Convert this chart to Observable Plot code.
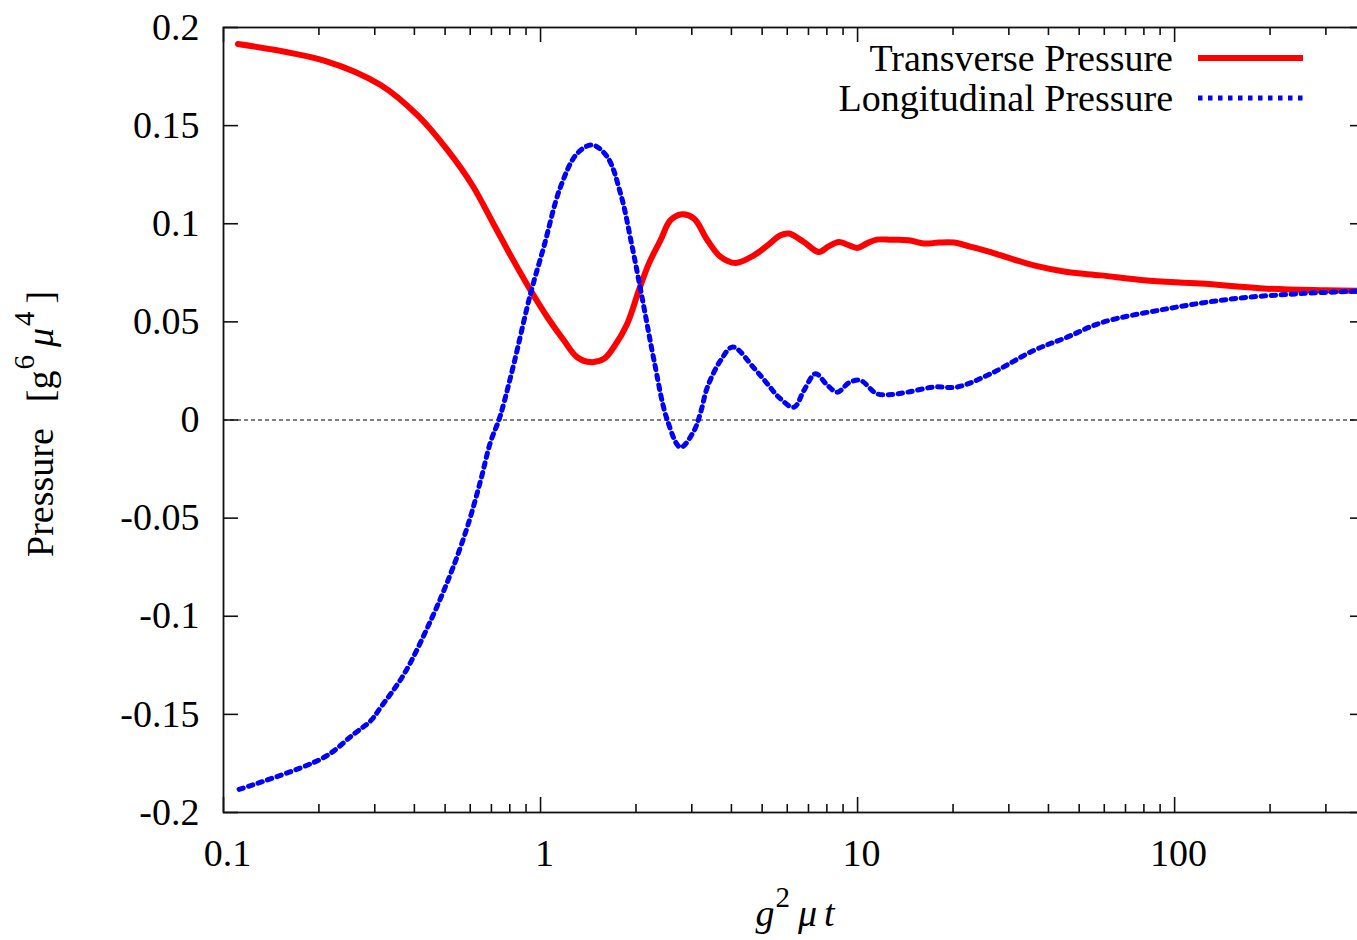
<!DOCTYPE html>
<html>
<head>
<meta charset="utf-8">
<script src="https://cdn.jsdelivr.net/npm/d3@7"></script>
<script src="https://cdn.jsdelivr.net/npm/@observablehq/plot@0.6"></script>
<style>
  html, body { margin: 0; padding: 0; background: #fff; overflow: hidden; }
  #chart svg { max-width: none !important; display: block; }
</style>
</head>
<body>
<div id="chart"></div>
<script>
// Transverse pressure vs g^2 mu t
const transverseT = [0.111, 0.21, 0.313, 0.409, 0.509, 0.61, 0.71, 0.81, 0.93, 1.05, 1.184, 1.305, 1.438, 1.585, 1.703, 1.877, 2.042, 2.196, 2.39, 2.57, 2.80, 3.05, 3.36, 3.70, 4.12, 4.71, 5.2, 5.71, 6.07, 6.77, 7.55, 8.1, 8.73, 9.3, 9.98, 10.7, 11.5, 12.8, 14.5, 16.2, 18.0, 20.1, 22.5, 26.3, 30.5, 36.0, 45.8, 58.5, 80, 120.8, 196, 300, 400];
const transverseP = [0.1916, 0.1829, 0.1707, 0.1553, 0.1375, 0.1195, 0.100, 0.083, 0.0661, 0.0525, 0.0406, 0.032, 0.0295, 0.0312, 0.0372, 0.0491, 0.0661, 0.0797, 0.0916, 0.1018, 0.1048, 0.1026, 0.0916, 0.0831, 0.080, 0.0839, 0.089, 0.0941, 0.095, 0.0907, 0.0856, 0.0885, 0.0907, 0.0893, 0.0877, 0.090, 0.0919, 0.0918, 0.0916, 0.0899, 0.0904, 0.0904, 0.0885, 0.0856, 0.0822, 0.0788, 0.0754, 0.0737, 0.0712, 0.0695, 0.0669, 0.0661, 0.0658];

// Longitudinal pressure vs g^2 mu t
const longitudinalT = [0.112, 0.207, 0.2576, 0.291, 0.313, 0.371, 0.450, 0.520, 0.587, 0.647, 0.695, 0.739, 0.766, 0.824, 0.930, 1.024, 1.156, 1.305, 1.456, 1.623, 1.788, 1.946, 2.118, 2.28, 2.51, 2.765, 3.05, 3.20, 3.36, 3.70, 4.04, 4.71, 5.19, 5.65, 6.30, 6.77, 7.37, 8.0, 8.63, 9.4, 10.2, 11.5, 12.8, 14.4, 17.4, 20.6, 26.3, 36.0, 45.8, 58.5, 94.9, 153.8, 249.7, 400];
const longitudinalP = [-0.1882, -0.172, -0.160, -0.1533, -0.1465, -0.1295, -0.1023, -0.0785, -0.0547, -0.0309, -0.0113, 0.0, 0.0086, 0.0287, 0.0644, 0.0882, 0.1188, 0.1358, 0.1401, 0.1341, 0.1154, 0.0882, 0.0576, 0.0304, 0.0, -0.0139, -0.0054, 0.004, 0.0168, 0.0304, 0.0372, 0.0265, 0.0185, 0.0115, 0.0065, 0.015, 0.0236, 0.018, 0.0142, 0.019, 0.0202, 0.0134, 0.013, 0.0142, 0.0168, 0.0168, 0.0236, 0.0355, 0.0422, 0.0495, 0.0567, 0.0618, 0.0644, 0.0658];

// Axis ticks and labels
const xMajorTicks = [0.1, 1, 10, 100];
const xTickLabels = ["0.1", "1", "10", "100"];
const xMinorTicks = [0.2, 0.3, 0.4, 0.5, 0.6, 0.7, 0.8, 0.9, 2, 3, 4, 5, 6, 7, 8, 9, 20, 30, 40, 50, 60, 70, 80, 90, 200, 300];
const yTickValues = [0.2, 0.15, 0.1, 0.05, 0, -0.05, -0.1, -0.15, -0.2];
const yTickLabels = ["0.2", "0.15", "0.1", "0.05", "0", "-0.05", "-0.1", "-0.15", "-0.2"];

const seriesNames = ["Transverse Pressure", "Longitudinal Pressure"];

const transverse = transverseT.map((t, i) => ({t, p: transverseP[i]}));
const longitudinal = longitudinalT.map((t, i) => ({t, p: longitudinalP[i]}));

const W = 1380, H = 940, mL = 223, mR = 15, mT = 27, mB = 128;
const innerW = W - mL - mR, innerH = H - mT - mB;
const axisColor = "#111";
const serif = "'Liberation Serif', 'Times New Roman', Times, serif";
const redStyle = {stroke: "#ff0000", strokeWidth: 6};
const blueStyle = {stroke: "#0000ff", strokeWidth: 5, dash: "4.5,5.5"};

const chart = Plot.plot({
  width: W,
  height: H,
  marginLeft: mL,
  marginRight: mR,
  marginTop: mT,
  marginBottom: mB,
  style: {fontFamily: serif, fontSize: "38px", background: "#fff", color: "#000"},
  x: {type: "log", domain: [0.1, 400]},
  y: {domain: [-0.2, 0.2]},
  marks: [
    Plot.ruleY([0], {stroke: "#000", strokeWidth: 1.2, strokeDasharray: "4,3"}),
    Plot.line(transverse, {x: "t", y: "p", curve: "catmull-rom", stroke: redStyle.stroke, strokeWidth: redStyle.strokeWidth, strokeLinejoin: "round"}),
    Plot.line(longitudinal, {x: "t", y: "p", curve: "catmull-rom", stroke: blueStyle.stroke, strokeWidth: blueStyle.strokeWidth, strokeDasharray: blueStyle.dash}),
    // inward ticks on all four sides
    Plot.tickX(xMajorTicks, {x: d => d, insetTop: innerH - 15, stroke: axisColor, strokeWidth: 1.6}),
    Plot.tickX(xMajorTicks, {x: d => d, insetBottom: innerH - 15, stroke: axisColor, strokeWidth: 1.6}),
    Plot.tickX(xMinorTicks, {x: d => d, insetTop: innerH - 8, stroke: axisColor, strokeWidth: 1.6}),
    Plot.tickX(xMinorTicks, {x: d => d, insetBottom: innerH - 8, stroke: axisColor, strokeWidth: 1.6}),
    Plot.tickY(yTickValues, {y: d => d, insetRight: innerW - 15, stroke: axisColor, strokeWidth: 1.6}),
    Plot.tickY(yTickValues, {y: d => d, insetLeft: innerW - 15, stroke: axisColor, strokeWidth: 1.6}),
    Plot.frame({stroke: axisColor, strokeWidth: 1.8}),
    Plot.axisX({ticks: xMajorTicks, tickFormat: d => xTickLabels[xMajorTicks.indexOf(d)], tickSize: 0, tickPadding: 27, dx: 4, fontSize: 38, label: null, fill: "#000"}),
    Plot.axisY({ticks: yTickValues, tickFormat: d => yTickLabels[yTickValues.indexOf(d)], tickSize: 0, tickPadding: 24, fontSize: 38, label: null, fill: "#000"})
  ]
});

document.getElementById("chart").appendChild(chart);

const svg = d3.select(chart);

// x-axis title: g^2 mu t
const xt = svg.append("text")
  .attr("x", 795).attr("y", 926)
  .attr("text-anchor", "middle")
  .attr("font-family", serif).attr("font-size", 38).attr("fill", "#000");
xt.append("tspan").attr("font-style", "italic").text("g");
xt.append("tspan").attr("font-size", 29).attr("dy", -19).attr("dx", 1).text("2");
xt.append("tspan").attr("font-style", "italic").attr("dy", 19).attr("dx", 8).text("μ");
xt.append("tspan").attr("font-style", "italic").attr("dx", 7).text("t");

// y-axis title: Pressure [g^6 mu^4 ]
const yt = svg.append("text")
  .attr("transform", "translate(53,420) rotate(-90)")
  .attr("x", -137).attr("y", 0)
  .attr("text-anchor", "start")
  .attr("font-family", serif).attr("font-size", 38).attr("fill", "#000");
yt.append("tspan").text("Pressure");
yt.append("tspan").attr("dx", 26).text("[g");
yt.append("tspan").attr("font-size", 29).attr("dy", -19).attr("dx", 1).text("6");
yt.append("tspan").attr("font-style", "italic").attr("dy", 19).attr("dx", 8).text("μ");
yt.append("tspan").attr("font-size", 29).attr("dy", -19).attr("dx", 2).text("4");
yt.append("tspan").attr("dy", 19).attr("dx", 8).text("]");

// legend, top right inside the frame
const legendRows = [
  {name: seriesNames[0], y: 58, style: redStyle},
  {name: seriesNames[1], y: 98, style: blueStyle}
];
const lg = svg.append("g");
legendRows.forEach(r => {
  lg.append("text")
    .attr("x", 1173).attr("y", r.y).attr("dy", "0.33em")
    .attr("text-anchor", "end")
    .attr("font-family", serif).attr("font-size", 38).attr("fill", "#000")
    .text(r.name);
  lg.append("line")
    .attr("x1", 1198).attr("x2", 1303).attr("y1", r.y).attr("y2", r.y)
    .attr("stroke", r.style.stroke).attr("stroke-width", r.style.strokeWidth)
    .attr("stroke-dasharray", r.style.dash || null);
});
</script>
</body>
</html>
